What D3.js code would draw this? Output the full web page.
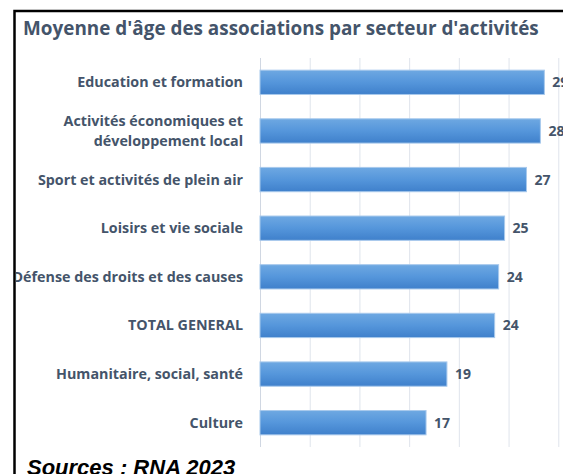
<!DOCTYPE html>
<html>
<head>
<meta charset="utf-8">
<script src="https://cdn.jsdelivr.net/npm/d3@7"></script>
<style>
  html, body { margin: 0; padding: 0; background: #fff; overflow: hidden; }
  svg { display: block; }
</style>
</head>
<body>
<div id="chart"></div>
<script>
// Moyenne d'age des associations par secteur d'activites (RNA 2023)
const categories = [
    'Education et formation',
    'Activités économiques et|développement local',
    'Sport et activités de plein air',
    'Loisirs et vie sociale',
    'Défense des droits et des causes',
    'TOTAL GENERAL',
    'Humanitaire, social, santé',
    'Culture'
];
const values = [28.6, 28.2, 26.8, 24.6, 24.0, 23.6, 18.8, 16.7];
const gridTicks = [0, 5, 10, 15, 20, 25, 30, 35];
const titleText = "Moyenne d'âge des associations par secteur d'activités";
const sourceText = 'Sources : RNA 2023';

const svgWidth = 563;
const svgHeight = 474;
const textColor = '#44546a';
const labelFont = '"Open Sans", Lato, sans-serif';

const chartData = categories.map((c, i) => ({ label: c, value: values[i] }));

const svg = d3.select('#chart')
    .append('svg')
    .attr('width', svgWidth)
    .attr('height', svgHeight);

const defs = svg.append('defs');
const grad = defs.append('linearGradient')
    .attr('id', 'barGrad')
    .attr('x1', 0).attr('y1', 0).attr('x2', 0).attr('y2', 1);
grad.append('stop').attr('offset', '0%').attr('stop-color', '#6ea8e2');
grad.append('stop').attr('offset', '50%').attr('stop-color', '#5596db');
grad.append('stop').attr('offset', '100%').attr('stop-color', '#3f80cb');

defs.append('clipPath').attr('id', 'frameClip')
    .append('rect')
    .attr('x', 16).attr('y', 12)
    .attr('width', svgWidth).attr('height', svgHeight);

const g = svg.append('g').attr('clip-path', 'url(#frameClip)');

const xScale = d3.scaleLinear()
    .domain([0, 35])
    .range([260, 608]);
const yScale = d3.scaleBand()
    .domain(categories)
    .range([58, 447])
    .paddingInner(0.5)
    .paddingOuter(0.25);

// vertical gridlines
g.append('g')
    .selectAll('line')
    .data(gridTicks)
    .enter()
    .append('line')
    .attr('x1', d => xScale(d) + 0.5)
    .attr('x2', d => xScale(d) + 0.5)
    .attr('y1', 58)
    .attr('y2', 447)
    .attr('stroke', d => d === 0 ? '#d0d7e2' : '#dfe4ec')
    .attr('stroke-width', 1);

// bars
g.append('g')
    .selectAll('rect')
    .data(chartData)
    .enter()
    .append('rect')
    .attr('x', xScale(0))
    .attr('y', d => yScale(d.label))
    .attr('width', d => xScale(d.value) - xScale(0))
    .attr('height', yScale.bandwidth())
    .attr('fill', 'url(#barGrad)')
    .attr('stroke', '#a8c9ec')
    .attr('stroke-width', 1);

// value labels
g.append('g')
    .selectAll('text')
    .data(chartData)
    .enter()
    .append('text')
    .attr('x', d => xScale(d.value) + 8)
    .attr('y', d => yScale(d.label) + yScale.bandwidth() / 2 + 5)
    .attr('font-family', labelFont)
    .attr('font-weight', 'bold')
    .attr('font-size', 14)
    .attr('fill', textColor)
    .text(d => Math.round(d.value));

// category labels (right aligned, may wrap on '|')
const catLabels = g.append('g')
    .selectAll('text')
    .data(chartData)
    .enter()
    .append('text')
    .attr('text-anchor', 'end')
    .attr('font-family', labelFont)
    .attr('font-weight', 'bold')
    .attr('font-size', 14.3)
    .attr('fill', textColor);

catLabels.each(function(d) {
    const lines = d.label.split('|');
    const cy = yScale(d.label) + yScale.bandwidth() / 2;
    const t = d3.select(this);
    lines.forEach((line, i) => {
        t.append('tspan')
            .attr('x', 243)
            .attr('y', cy + 5 + (i - (lines.length - 1) / 2) * 20)
            .text(line);
    });
});

// title
g.append('text')
    .attr('x', 23)
    .attr('y', 35)
    .attr('font-family', labelFont)
    .attr('font-weight', 'bold')
    .attr('font-size', 18.9)
    .attr('fill', textColor)
    .text(titleText);

// source
g.append('text')
    .attr('x', 27)
    .attr('y', 475)
    .attr('font-family', '"Liberation Sans", Arial, sans-serif')
    .attr('font-weight', 'bold')
    .attr('font-style', 'italic')
    .attr('font-size', 22)
    .attr('fill', '#000')
    .text(sourceText);

// frame
svg.append('rect')
    .attr('x', 14.5)
    .attr('y', 11)
    .attr('width', svgWidth + 20)
    .attr('height', svgHeight + 20)
    .attr('fill', 'none')
    .attr('stroke', '#000')
    .attr('stroke-width', 2.5);
</script>
</body>
</html>
